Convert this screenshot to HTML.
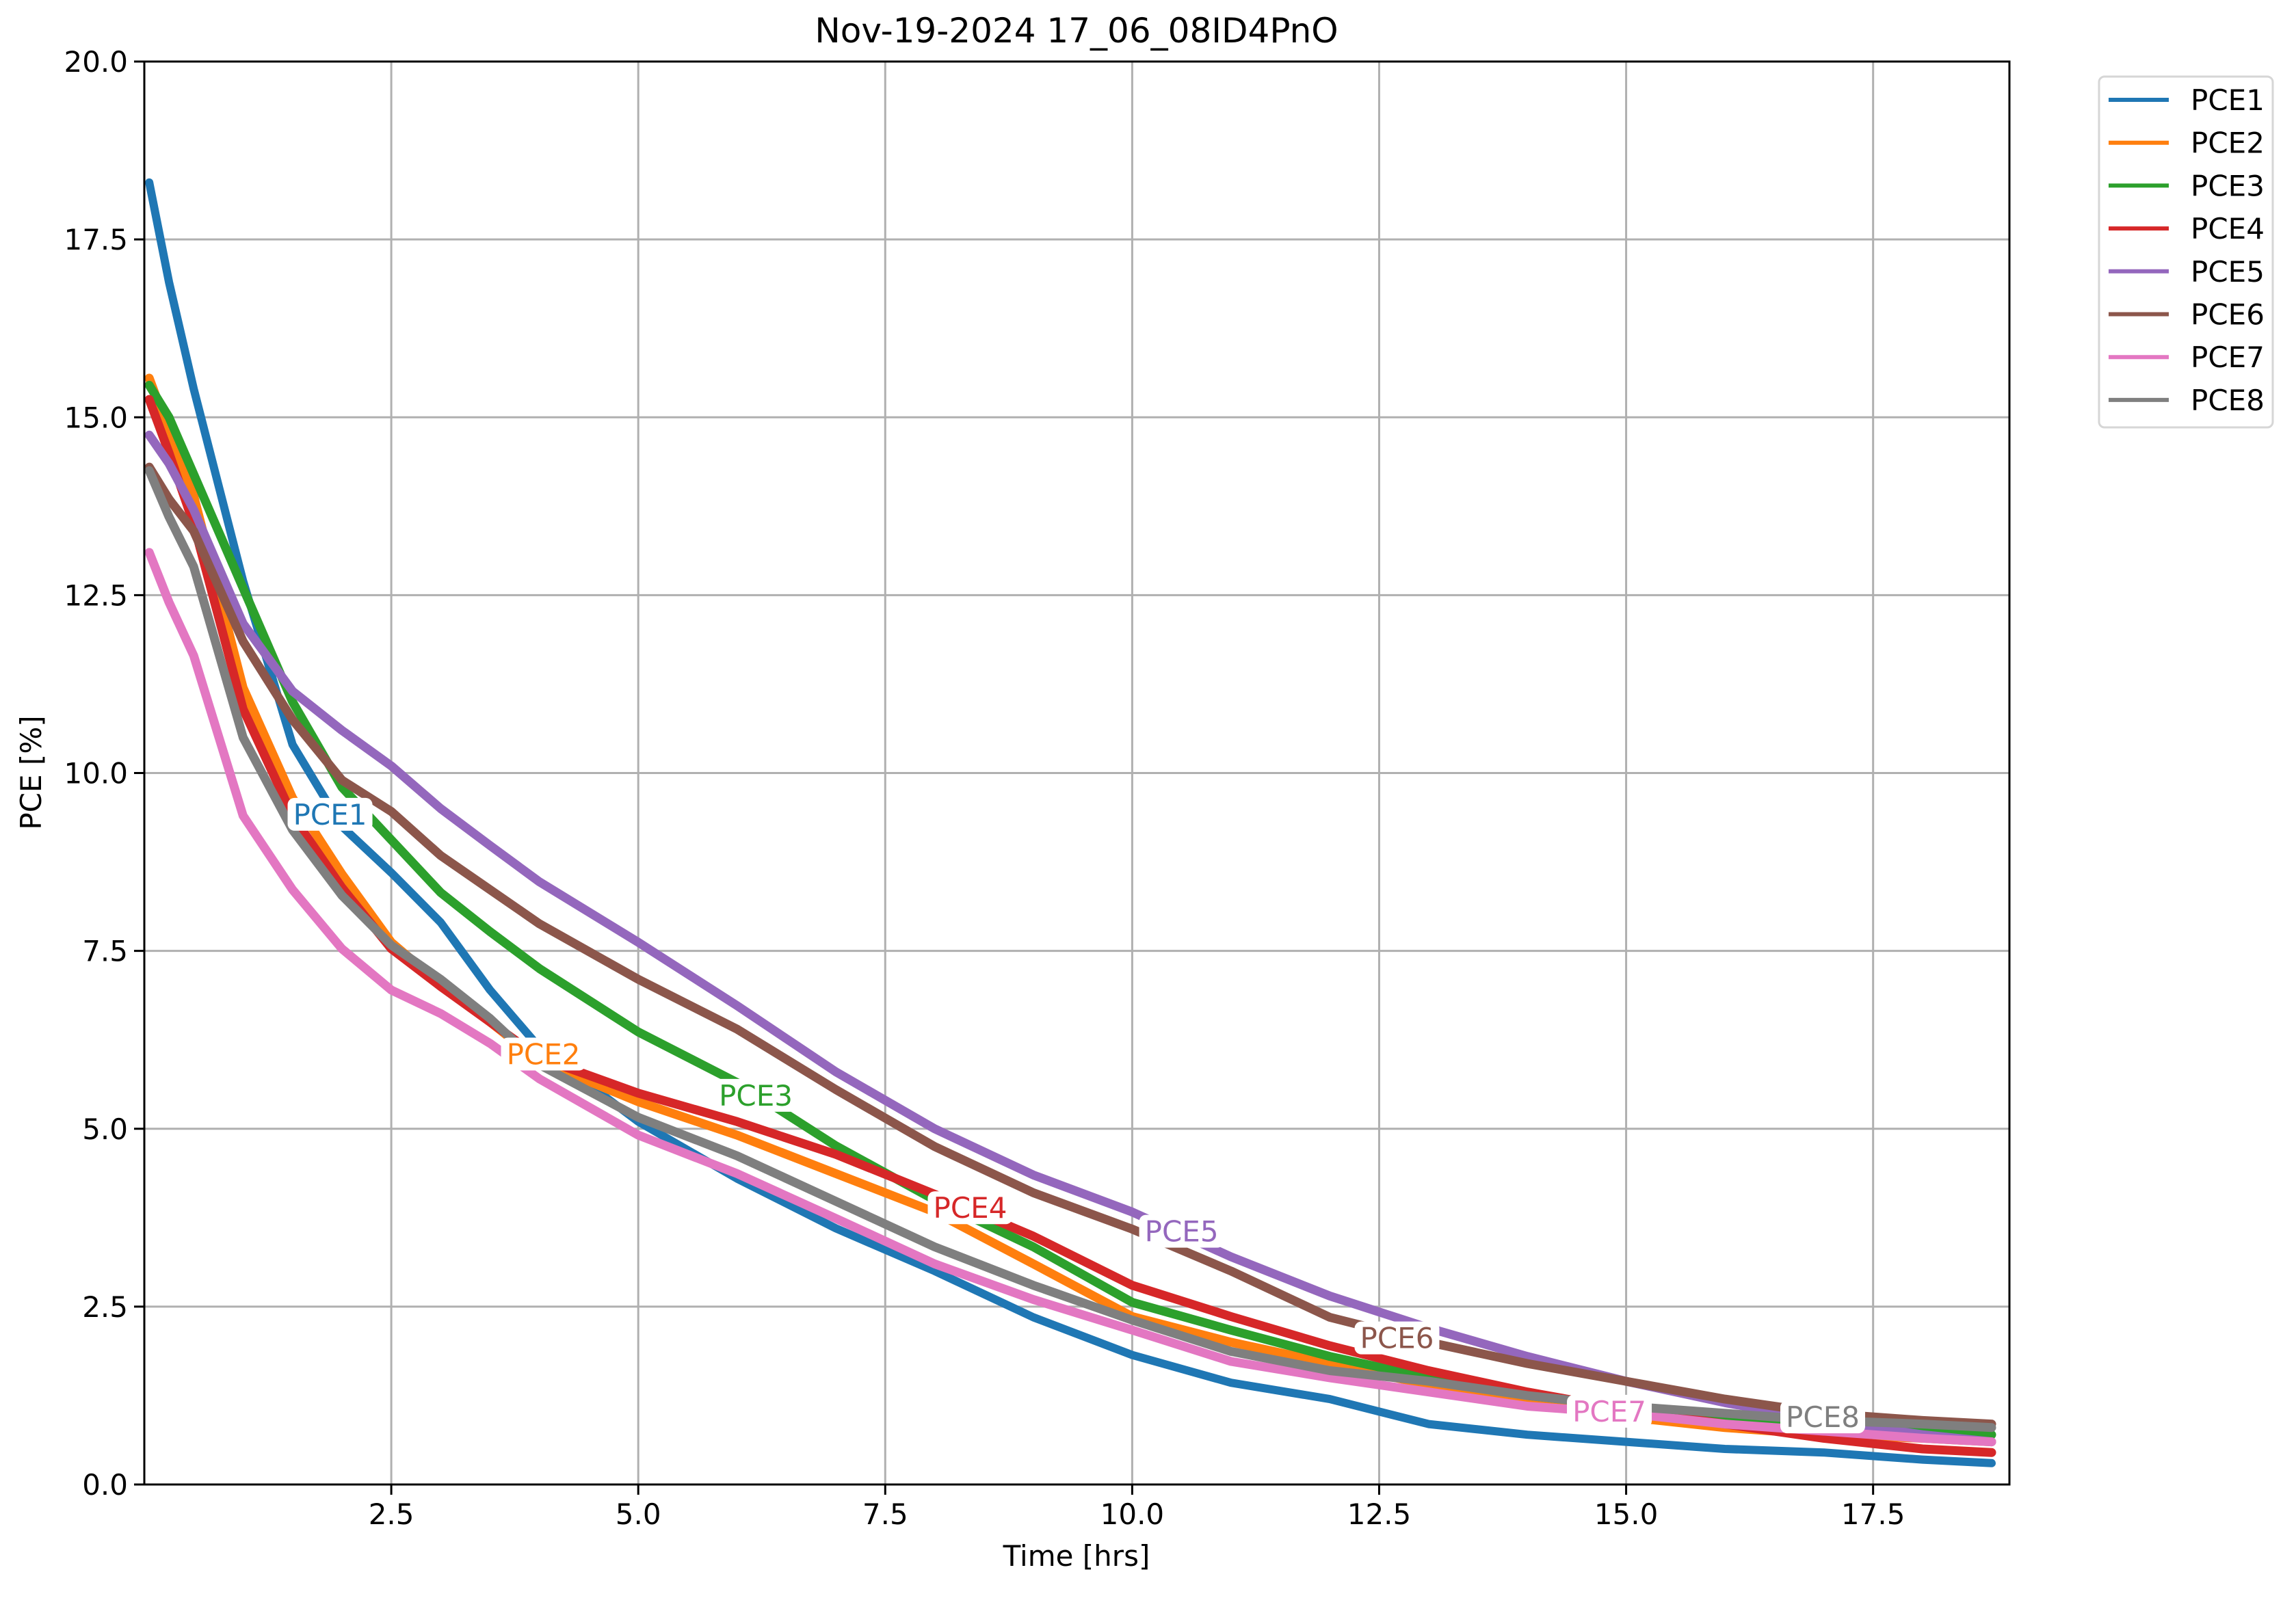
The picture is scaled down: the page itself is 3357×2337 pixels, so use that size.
<!DOCTYPE html>
<html><head><meta charset="utf-8"><style>
body{margin:0;background:#fff}
svg text{font-family:"DejaVu Sans","Liberation Sans",sans-serif}
</style></head><body>
<svg id="chart" width="3357" height="2332" xmlns="http://www.w3.org/2000/svg">
<rect width="3357" height="2332" fill="#fff"/>
<text x="1574" y="62" font-size="50" text-anchor="middle">Nov-19-2024 17_06_08ID4PnO</text>
<g id="grid"></g><g id="series"></g><g id="labels"></g><g id="axes"></g>
<text x="1574" y="2290" font-size="42" text-anchor="middle">Time [hrs]</text>
<text transform="translate(60,1130) rotate(-90)" font-size="42" text-anchor="middle">PCE [%]</text>
<g id="legend"></g>
</svg>
<script>
const times=[0.05,0.25,0.5,1,1.5,2,2.5,3,3.5,4,5,6,7,8,9,10,11,12,13,14,15,16,17,18,18.7];
const pce1=[18.3,16.9,15.4,12.7,10.4,9.25,8.6,7.9,6.95,6.14,5.1,4.3,3.6,3.0,2.35,1.82,1.43,1.2,0.85,0.7,0.6,0.5,0.45,0.35,0.3];
const pce2=[15.55,14.8,13.9,11.2,9.65,8.58,7.62,7.03,6.5,5.95,5.38,4.91,4.37,3.83,3.1,2.36,2.0,1.7,1.4,1.15,0.95,0.8,0.7,0.65,0.6];
const pce3=[15.45,15.0,14.2,12.6,11.0,9.8,9.06,8.32,7.77,7.25,6.36,5.65,4.76,4.0,3.34,2.56,2.17,1.8,1.5,1.25,1.1,0.95,0.85,0.75,0.7];
const pce4=[15.25,14.5,13.5,10.9,9.4,8.39,7.53,7.0,6.5,6.0,5.5,5.1,4.64,4.08,3.49,2.8,2.36,1.95,1.6,1.3,1.05,0.85,0.65,0.5,0.45];
const pce5=[14.75,14.35,13.7,12.1,11.15,10.6,10.1,9.5,8.98,8.47,7.62,6.73,5.8,5.0,4.35,3.83,3.2,2.65,2.2,1.8,1.45,1.15,0.9,0.7,0.6];
const pce6=[14.3,13.85,13.4,11.85,10.75,9.9,9.46,8.84,8.36,7.88,7.1,6.4,5.55,4.75,4.1,3.59,3.0,2.35,2.0,1.7,1.45,1.2,1.0,0.9,0.85];
const pce7=[13.1,12.4,11.65,9.4,8.36,7.53,6.95,6.62,6.2,5.7,4.91,4.37,3.74,3.1,2.6,2.17,1.73,1.5,1.3,1.1,1.0,0.85,0.75,0.65,0.6];
const pce8=[14.25,13.6,12.9,10.5,9.2,8.28,7.58,7.1,6.55,5.9,5.16,4.62,3.98,3.34,2.8,2.31,1.87,1.6,1.45,1.25,1.1,1.0,0.9,0.85,0.8];
const seriesNames=["PCE1","PCE2","PCE3","PCE4","PCE5","PCE6","PCE7","PCE8"];
const seriesColors=["#1f77b4","#ff7f0e","#2ca02c","#d62728","#9467bd","#8c564b","#e377c2","#7f7f7f"];
const labelT=[1.88,4.04,6.19,8.36,10.5,12.68,14.83,16.99];
const labelV=[9.42,6.05,5.47,3.89,3.56,2.06,1.03,0.95];
const xTicks=[2.5,5.0,7.5,10.0,12.5,15.0,17.5];
const yTicks=[0,2.5,5,7.5,10,12.5,15,17.5,20];
const allSeries=[pce1,pce2,pce3,pce4,pce5,pce6,pce7,pce8];
const L=211,R=2938,T=90,B=2171,XMIN=0,XMAX=18.88,YMIN=0,YMAX=20;
const xs=v=>L+(v-XMIN)/(XMAX-XMIN)*(R-L);
const ys=v=>B-(v-YMIN)/(YMAX-YMIN)*(B-T);
const NS="http://www.w3.org/2000/svg";
function mk(tag,attrs,parent){const e=document.createElementNS(NS,tag);for(const k in attrs)e.setAttribute(k,attrs[k]);parent.appendChild(e);return e;}
const grid=document.getElementById('grid'),axes=document.getElementById('axes'),ser=document.getElementById('series'),lab=document.getElementById('labels'),leg=document.getElementById('legend');
xTicks.forEach(t=>{const x=xs(t);
 let g=mk('line',{x1:x,x2:x,y1:T,y2:B,stroke:'#b0b0b0','stroke-width':3},grid);
 
 let k=mk('line',{x1:x,x2:x,y1:B,y2:B+15,stroke:'#000','stroke-width':3},axes);
 
 let tx=mk('text',{x:x,y:B+58,'font-size':42,'text-anchor':'middle'},axes);tx.textContent=t.toFixed(1);
 });
yTicks.forEach(t=>{const y=ys(t);
 let g=mk('line',{x1:L,x2:R,y1:y,y2:y,stroke:'#b0b0b0','stroke-width':3},grid);
 
 let k=mk('line',{x1:L-15,x2:L,y1:y,y2:y,stroke:'#000','stroke-width':3},axes);
 
 let tx=mk('text',{x:L-24,y:y+15,'font-size':42,'text-anchor':'end'},axes);tx.textContent=t.toFixed(1);
 });
let fr=mk('rect',{x:L,y:T,width:R-L,height:B-T,fill:'none',stroke:'#000','stroke-width':3},axes);

allSeries.forEach((arr,i)=>{
 const pts=arr.map((v,j)=>xs(times[j]).toFixed(1)+','+ys(v).toFixed(1)).join(' ');
 let p=mk('polyline',{points:pts,fill:'none',stroke:seriesColors[i],'stroke-width':i===0?12:13,'stroke-linejoin':'round','stroke-linecap':'round'},ser);
 
 const lx=xs(labelT[i]),ly=ys(labelV[i]);
 let bg=mk('rect',{x:lx-62,y:ly-24,width:124,height:48,rx:10,fill:'#fff'},lab);
 
 let t=mk('text',{x:lx,y:ly+15,'font-size':42,'text-anchor':'middle',fill:seriesColors[i]},lab);t.textContent=seriesNames[i];
 
});
let lb=mk('rect',{x:3069,y:112,width:254,height:513,rx:8,fill:'#fff',stroke:'#d6d6d6','stroke-width':3},leg);

seriesNames.forEach((n,i)=>{const y=146+i*62.7;
 let l=mk('line',{x1:3083,x2:3171,y1:y,y2:y,stroke:seriesColors[i],'stroke-width':6},leg);
 
 let t=mk('text',{x:3203,y:y+15,'font-size':42},leg);t.textContent=n;
 });
</script>
</body></html>
